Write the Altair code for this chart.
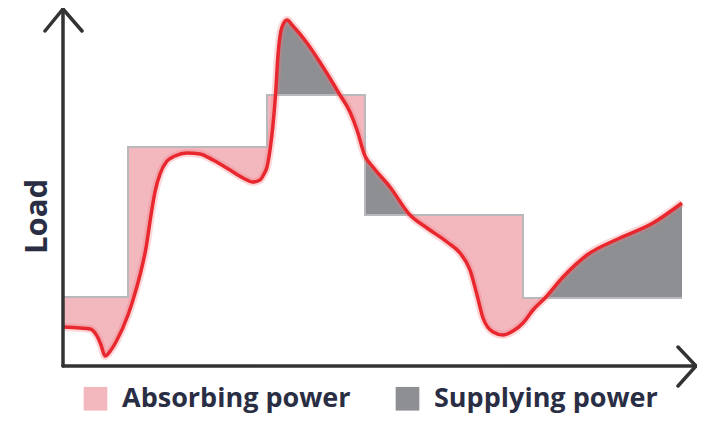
import altair as alt
import pandas as pd

# ---- values (x: time, y: load) ----
curve_x = [0, 17, 27, 34, 38, 42, 48, 54, 65, 70, 77, 83, 88, 92, 97, 104, 112, 124, 137,
           150, 167, 180, 190, 197, 201, 204, 207, 210, 212.5, 215, 219, 224, 230, 244, 260,
           277, 287, 294, 302, 310, 327, 347, 364, 384, 397, 407, 414, 420, 430, 440, 450,
           460, 470, 482, 500, 524, 557, 590, 619]
curve_y = [39, 38, 37, 30, 21, 10, 16, 26, 51, 66, 91, 118, 151, 174, 192, 205, 210, 213, 212,
           206, 196, 188, 184, 186, 192, 199, 216, 241, 271, 311, 339, 346, 340, 323, 299,
           271, 254, 236, 210, 199, 179, 151, 138, 124, 113, 96, 71, 48, 34, 31, 35,
           43, 56, 68, 89, 111, 128, 143, 163]

step_edges = [0, 65, 204, 302, 460, 619]
step_levels = [69, 219, 271, 151, 68]

# pieces between step edges and crossing points, with the kind of power
piece_bounds = [0, 65, 204, 212.5, 277, 302, 347, 460, 482, 619]
piece_kind = ["Absorbing power", "Absorbing power", "Absorbing power", "Supplying power",
              "Absorbing power", "Supplying power", "Absorbing power", "Absorbing power",
              "Supplying power"]

legend_labels = ["Absorbing power", "Supplying power"]
legend_colors = ["#f3b7be", "#8d8f93"]

X_MAX, Y_MAX = 634, 358

# ---- tables ----
curve_df = pd.DataFrame({"x": curve_x, "load": curve_y})

rows = []
for i in range(len(piece_kind)):
    a, b = piece_bounds[i], piece_bounds[i + 1]
    mid = (a + b) / 2
    lvl = None
    for j in range(len(step_levels)):
        if step_edges[j] <= mid <= step_edges[j + 1]:
            lvl = step_levels[j]
    for xv, yv in zip(curve_x, curve_y):
        if a <= xv <= b:
            rows.append({"piece": i, "x": xv, "load": yv, "step": lvl, "kind": piece_kind[i]})
fill_df = pd.DataFrame(rows)

step_df = pd.DataFrame({"x": step_edges, "level": step_levels + [step_levels[-1]]})

axes_df = pd.DataFrame({
    "x": [0, 0, 0, X_MAX - 1, -18, 0, 19, X_MAX - 19, X_MAX - 1, X_MAX - 19],
    "y": [Y_MAX - 1, 0, 0, 0, Y_MAX - 23, Y_MAX - 1, Y_MAX - 23, 19, 0, -20],
    "grp": ["ya", "ya", "xa", "xa", "ua", "ua", "ua", "ra", "ra", "ra"],
    "ord": [0, 1, 0, 1, 0, 1, 2, 0, 1, 2],
})

xs = alt.Scale(domain=[0, X_MAX], nice=False, zero=False)
ys = alt.Scale(domain=[0, Y_MAX], nice=False, zero=False)
yaxis = alt.Axis(title="Load", domain=False, ticks=False, labels=False, grid=False,
                 titleFontSize=31, titleFont="Open Sans", titleFontWeight="bold",
                 titleColor="#2a2e44", titleX=-26, titleY=208, titleAngle=270,
                 titleAlign="center", titleBaseline="middle")

fill = alt.Chart(fill_df).mark_area(interpolate="monotone", opacity=1).encode(
    x=alt.X("x:Q", scale=xs, axis=None),
    y=alt.Y("load:Q", scale=ys, axis=yaxis),
    y2="step:Q",
    color=alt.Color("kind:N", scale=alt.Scale(domain=legend_labels, range=legend_colors),
                    legend=alt.Legend(title=None, orient="none", legendX=19, legendY=377,
                                      direction="horizontal", symbolType="square",
                                      symbolSize=560, symbolStrokeWidth=0, symbolOpacity=1,
                                      labelFontSize=27, labelFont="Open Sans",
                                      labelFontWeight="bold", labelColor="#2a2e44",
                                      labelOffset=13, columnPadding=43, padding=0,
                                      labelLimit=400)),
    detail="piece:N",
)

step_line = alt.Chart(step_df).mark_line(interpolate="step-after", color="#b9b9bd",
                                         strokeWidth=2).encode(
    x=alt.X("x:Q", scale=xs, axis=None),
    y=alt.Y("level:Q", scale=ys, axis=yaxis),
)

glow = alt.Chart(curve_df).mark_line(interpolate="monotone", color="#f27b7f",
                                     strokeWidth=8, opacity=0.3).encode(
    x=alt.X("x:Q", scale=xs, axis=None),
    y=alt.Y("load:Q", scale=ys, axis=yaxis),
)
line = alt.Chart(curve_df).mark_line(interpolate="monotone", color="#e8282e",
                                     strokeWidth=3.5).encode(
    x=alt.X("x:Q", scale=xs, axis=None),
    y=alt.Y("load:Q", scale=ys, axis=yaxis),
)

axes = alt.Chart(axes_df).mark_line(color="#333333", strokeWidth=3.5,
                                    strokeCap="round", strokeJoin="round").encode(
    x=alt.X("x:Q", scale=xs, axis=None),
    y=alt.Y("y:Q", scale=ys, axis=yaxis),
    detail="grp:N",
    order="ord:Q",
)

chart = alt.layer(fill, step_line, glow, line, axes).properties(
    width=X_MAX, height=Y_MAX,
    padding={"left": 55, "top": 0, "right": 0, "bottom": 51},
    autosize=alt.AutoSizeParams(type="none"),
).configure_view(stroke=None)

chart.save("out.html", embed_options={"renderer": "svg", "actions": False})
